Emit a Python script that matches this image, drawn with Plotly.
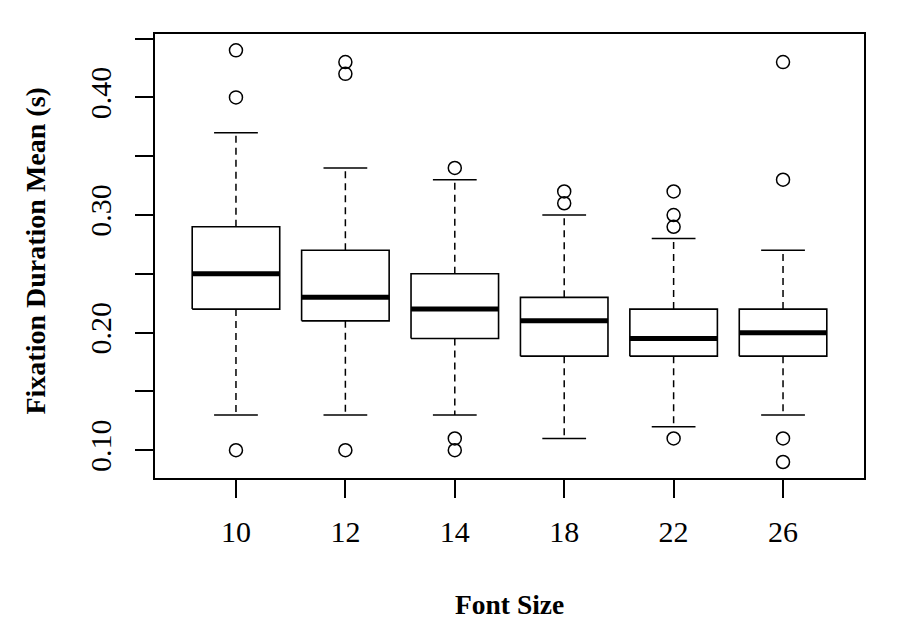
import plotly.graph_objects as go

categories = ["10", "12", "14", "18", "22", "26"]
lower_whisker = [0.13, 0.13, 0.13, 0.11, 0.12, 0.13]
q1 = [0.22, 0.21, 0.195, 0.18, 0.18, 0.18]
median = [0.25, 0.23, 0.22, 0.21, 0.195, 0.20]
q3 = [0.29, 0.27, 0.25, 0.23, 0.22, 0.22]
upper_whisker = [0.37, 0.34, 0.33, 0.30, 0.28, 0.27]
outliers = [
    [0.44, 0.40, 0.10],
    [0.43, 0.42, 0.10],
    [0.34, 0.11, 0.10],
    [0.32, 0.31],
    [0.32, 0.30, 0.29, 0.11],
    [0.43, 0.33, 0.11, 0.09],
]
y_tickvals = [0.10, 0.15, 0.20, 0.25, 0.30, 0.35, 0.40, 0.45]
y_ticktext = ["0.10", "", "0.20", "", "0.30", "", "0.40", ""]

BOX_HALF = 0.4
CAP_HALF = 0.2
FONT = "Liberation Serif, Times New Roman, serif"

pos = list(range(1, len(categories) + 1))

wx, wy, cx, cy, bx, by, mx, my, ox, oy = [], [], [], [], [], [], [], [], [], []
for i, p in enumerate(pos):
    wx += [p, p, None, p, p, None]
    wy += [q3[i], upper_whisker[i], None, q1[i], lower_whisker[i], None]
    cx += [p - CAP_HALF, p + CAP_HALF, None, p - CAP_HALF, p + CAP_HALF, None]
    cy += [upper_whisker[i], upper_whisker[i], None, lower_whisker[i], lower_whisker[i], None]
    bx += [p - BOX_HALF, p + BOX_HALF, p + BOX_HALF, p - BOX_HALF, p - BOX_HALF, None]
    by += [q1[i], q1[i], q3[i], q3[i], q1[i], None]
    mx += [p - BOX_HALF, p + BOX_HALF, None]
    my += [median[i], median[i], None]
    for v in outliers[i]:
        ox.append(p)
        oy.append(v)

fig = go.Figure()
fig.add_trace(go.Scatter(x=wx, y=wy, mode="lines",
                         line=dict(color="black", width=1.5, dash="7px,5px"),
                         hoverinfo="skip", showlegend=False))
fig.add_trace(go.Scatter(x=cx, y=cy, mode="lines",
                         line=dict(color="black", width=1.5),
                         hoverinfo="skip", showlegend=False))
fig.add_trace(go.Scatter(x=bx, y=by, mode="lines",
                         line=dict(color="black", width=1.6),
                         hoverinfo="skip", showlegend=False))
fig.add_trace(go.Scatter(x=mx, y=my, mode="lines",
                         line=dict(color="black", width=5),
                         hoverinfo="skip", showlegend=False))
fig.add_trace(go.Scatter(x=ox, y=oy, mode="markers",
                         marker=dict(symbol="circle-open", size=13, color="black",
                                     line=dict(width=1.5, color="black")),
                         showlegend=False))

fig.update_layout(
    width=890, height=628,
    margin=dict(l=147, r=34, t=26, b=158),
    paper_bgcolor="white", plot_bgcolor="white",
    font=dict(family=FONT, size=30, color="black"),
    xaxis=dict(range=[0.26, 6.74], tickvals=pos, ticktext=categories,
               showgrid=False, zeroline=False, showline=True, mirror=True,
               linecolor="black", linewidth=2, ticks="outside", ticklen=18,
               tickwidth=2, tickcolor="black", ticklabelstandoff=8,
               tickfont=dict(family=FONT, size=30, color="black")),
    yaxis=dict(range=[0.0764, 0.4539], tickvals=y_tickvals, ticktext=y_ticktext,
               showgrid=False, zeroline=False, showline=True, mirror=True,
               linecolor="black", linewidth=2, ticks="outside", ticklen=18,
               tickwidth=2, tickcolor="black", tickangle=-90, ticklabelstandoff=12,
               tickfont=dict(family=FONT, size=30, color="black")),
    annotations=[
        dict(text="<b>Font Size</b>", xref="paper", yref="paper",
             x=0.5, y=-0.2845, xanchor="center", yanchor="middle", showarrow=False,
             font=dict(family=FONT, size=27.5, color="black")),
        dict(text="<b>Fixation Duration Mean (s)</b>", xref="paper", yref="paper",
             x=-0.168, y=0.512, xanchor="center", yanchor="middle", showarrow=False,
             textangle=-90, font=dict(family=FONT, size=28, color="black")),
    ],
)

fig.write_html("out.html")
